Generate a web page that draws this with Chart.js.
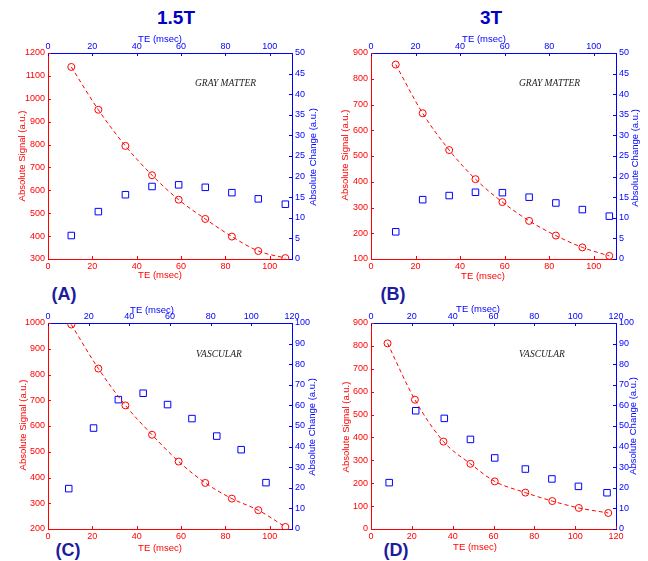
<!DOCTYPE html>
<html>
<head>
<meta charset="utf-8">
<script src="https://cdn.jsdelivr.net/npm/chart.js@4.4.1/dist/chart.umd.min.js"></script>
<style>
  html, body { margin: 0; padding: 0; background: #fff; }
  #page { position: relative; width: 648px; height: 561px; overflow: hidden; font-family: "Liberation Sans", Arial, sans-serif; }
  #page canvas { position: absolute; left: 0; top: 0; }
  .lbl { position: absolute; transform: translate(-50%, -50%); font-weight: bold; line-height: 1; white-space: nowrap; }
  .field { font-size: 19px; color: #0000c8; }
  .tag { font-size: 18px; color: #1c1c9c; }
</style>
</head>
<body>
<div id="page">
  <div class="lbl field" style="left:176px;top:17px">1.5T</div>
  <div class="lbl field" style="left:491px;top:17px">3T</div>
  <div class="lbl tag" style="left:64px;top:294px">(A)</div>
  <div class="lbl tag" style="left:393px;top:294px">(B)</div>
  <div class="lbl tag" style="left:68px;top:550px">(C)</div>
  <div class="lbl tag" style="left:396px;top:550px">(D)</div>
  <canvas id="cA" width="648" height="561"></canvas>
  <canvas id="cB" width="648" height="561"></canvas>
  <canvas id="cC" width="648" height="561"></canvas>
  <canvas id="cD" width="648" height="561"></canvas>
</div>
<script>
// ── Values ─────────────────────────────────────────────
// (A) 1.5T gray matter
const TE_A       = [10.5, 22.7, 34.9, 46.9, 58.9, 70.9, 82.9, 94.8, 107];
const SIGNAL_A   = [1139, 952, 794, 666, 559, 475, 398, 335, 304];
const CHANGE_A   = [5.7, 11.5, 15.6, 17.6, 18.0, 17.4, 16.1, 14.6, 13.3];
// (B) 3T gray matter
const TE_B       = [11.1, 23.2, 35.1, 46.9, 59.0, 71.0, 83.0, 94.9, 107];
const SIGNAL_B   = [855, 666, 523, 410, 321, 248, 191, 145, 112];
const CHANGE_B   = [6.6, 14.4, 15.4, 16.2, 16.1, 15.0, 13.6, 12.0, 10.4];
// (C) 1.5T vascular
const TE_C       = [10.5, 22.7, 34.9, 46.9, 58.9, 70.9, 82.9, 94.8, 107];
const SIGNAL_C   = [994, 823, 680, 566, 462, 379, 318, 273, 208];
const TE_C_TOP   = [10.2, 22.4, 34.6, 46.8, 58.8, 70.8, 83.0, 95.0, 107.2];
const CHANGE_C   = [19.6, 49.0, 62.8, 65.9, 60.4, 53.6, 45.1, 38.5, 22.5];
// (D) 3T vascular
const TE_D       = [8.1, 21.5, 35.5, 48.7, 60.6, 75.6, 88.8, 101.8, 116.2];
const SIGNAL_D   = [811, 565, 382, 285, 208, 159, 122, 92, 70];
const TE_D_TOP   = [8.9, 21.9, 35.9, 48.7, 60.6, 75.6, 88.6, 101.6, 115.6];
const CHANGE_D   = [22.5, 57.4, 53.7, 43.5, 34.5, 29.1, 24.3, 20.7, 17.6];

// axis limits: [min, max, step]
const TE_AXIS_110    = [0, 110, 20];
const TE_AXIS_120    = [0, 120, 20];
const SIGNAL_AXIS_A  = [300, 1200, 100];
const SIGNAL_AXIS_B  = [100, 900, 100];
const SIGNAL_AXIS_C  = [200, 1000, 100];
const SIGNAL_AXIS_D  = [0, 900, 100];
const CHANGE_AXIS_50  = [0, 50, 5];
const CHANGE_AXIS_100 = [0, 100, 10];

const RED  = '#ff0000';
const BLUE = '#0000ff';
const FONT = '"Liberation Sans", Arial, sans-serif';
const TICK = 3;

// ── MATLAB-ish look: inward ticks, axis titles, panel note ──
const matlabAxes = {
  id: 'matlabAxes',
  afterDraw(chart, args, o) {
    const ctx = chart.ctx;
    const ca = chart.chartArea;
    ctx.save();
    ctx.lineWidth = 1;
    Object.values(chart.scales).forEach(s => {
      ctx.strokeStyle = s.options.border.color;
      ctx.beginPath();
      s.ticks.forEach(t => {
        const p = Math.round(s.getPixelForValue(t.value)) + 0.5;
        if (s.position === 'left')   { ctx.moveTo(ca.left, p);  ctx.lineTo(ca.left + TICK, p); }
        if (s.position === 'right')  { ctx.moveTo(ca.right, p); ctx.lineTo(ca.right - TICK, p); }
        if (s.position === 'bottom') { ctx.moveTo(p, ca.bottom); ctx.lineTo(p, ca.bottom - TICK); }
        if (s.position === 'top')    { ctx.moveTo(p, ca.top);    ctx.lineTo(p, ca.top + TICK); }
      });
      ctx.stroke();
    });

    ctx.font = '9.5px ' + FONT;
    ctx.textAlign = 'center';
    ctx.textBaseline = 'middle';
    const t = o.titles;
    ctx.fillStyle = RED;
    ctx.fillText('TE (msec)', t.bottom[0], t.bottom[1]);
    ctx.fillStyle = BLUE;
    ctx.fillText('TE (msec)', t.top[0], t.top[1]);
    [['left', RED, 'Absolute Signal (a.u.)'], ['right', BLUE, 'Absolute Change (a.u.)']].forEach(([k, c, txt]) => {
      ctx.save();
      ctx.translate(t[k][0], t[k][1]);
      ctx.rotate(-Math.PI / 2);
      ctx.fillStyle = c;
      ctx.fillText(txt, 0, 0);
      ctx.restore();
    });

    ctx.font = 'italic 9.5px "Liberation Serif", "Times New Roman", serif';
    ctx.fillStyle = '#222';
    ctx.textAlign = 'left';
    ctx.fillText(o.note[0], o.note[1], o.note[2]);
    ctx.restore();
  }
};

function axis(position, range, color, pad) {
  const [min, max, step] = range;
  const size = { left: 48, right: 34, top: 25, bottom: 26 }[position];
  return {
    type: 'linear', position, min, max,
    grid: { display: false, drawTicks: false },
    border: { display: true, color, width: 1 },
    ticks: {
      stepSize: step, color, padding: pad, autoSkip: false, maxRotation: 0,
      includeBounds: false,
      font: { family: FONT, size: 9 },
      callback: v => String(v),
    },
    afterBuildTicks: s => {
      s.ticks = s.ticks.filter(t => {
        const k = (t.value - min) / step;
        return Math.abs(k - Math.round(k)) < 1e-6;
      });
    },
    afterFit: s => {
      if (position === 'left' || position === 'right') s.width = size;
      else s.height = size;
    },
  };
}

const pts = (xs, ys) => xs.map((x, i) => ({ x, y: ys[i] }));

function panel(id, area, xr, x2r, yr, y2r, red, blue, titles, note) {
  const [l, t, r, b] = area;
  return new Chart(document.getElementById(id), {
    type: 'scatter',
    data: {
      datasets: [
        {
          data: red, xAxisID: 'x', yAxisID: 'y',
          showLine: true, borderColor: RED, borderWidth: 1, borderDash: [4, 3],
          cubicInterpolationMode: 'monotone', tension: 0.4,
          pointStyle: 'circle', pointRadius: 3.5, pointBorderWidth: 1,
          pointBorderColor: RED, pointBackgroundColor: 'rgba(0,0,0,0)',
        },
        {
          data: blue, xAxisID: 'x2', yAxisID: 'y2',
          showLine: false,
          pointStyle: 'rect', pointRadius: 4.6, pointBorderWidth: 1,
          pointBorderColor: BLUE, pointBackgroundColor: 'rgba(0,0,0,0)',
        },
      ],
    },
    options: {
      responsive: false,
      animation: false,
      devicePixelRatio: 1,
      layout: { padding: { left: l - 48, top: t - 25, right: 648 - r - 34, bottom: 561 - b - 26 } },
      plugins: { legend: { display: false }, tooltip: { enabled: false }, matlabAxes: { titles, note } },
      scales: {
        x:  axis('bottom', xr, RED, 2),
        x2: axis('top', x2r, BLUE, 1),
        y:  axis('left', yr, RED, 3),
        y2: axis('right', y2r, BLUE, 3),
      },
    },
    plugins: [matlabAxes],
  });
}

panel('cA', [48, 53, 292, 259], TE_AXIS_110, TE_AXIS_110, SIGNAL_AXIS_A, CHANGE_AXIS_50,
  pts(TE_A, SIGNAL_A), pts(TE_A, CHANGE_A),
  { bottom: [160, 275], top: [160, 39], left: [22, 156], right: [313, 157] },
  ['GRAY MATTER', 195, 83]);

panel('cB', [371, 53, 616, 259], TE_AXIS_110, TE_AXIS_110, SIGNAL_AXIS_B, CHANGE_AXIS_50,
  pts(TE_B, SIGNAL_B), pts(TE_B, CHANGE_B),
  { bottom: [483, 276], top: [484, 39], left: [345, 155], right: [635, 158] },
  ['GRAY MATTER', 519, 83]);

panel('cC', [48, 323, 292, 529], TE_AXIS_110, TE_AXIS_120, SIGNAL_AXIS_C, CHANGE_AXIS_100,
  pts(TE_C, SIGNAL_C), pts(TE_C_TOP, CHANGE_C),
  { bottom: [160, 548], top: [152, 310], left: [23, 425], right: [312, 427] },
  ['VASCULAR', 196, 354]);

panel('cD', [371, 323, 616, 529], TE_AXIS_120, TE_AXIS_120, SIGNAL_AXIS_D, CHANGE_AXIS_100,
  pts(TE_D, SIGNAL_D), pts(TE_D_TOP, CHANGE_D),
  { bottom: [475, 547], top: [478, 309], left: [346, 427], right: [633, 426] },
  ['VASCULAR', 519, 354]);
</script>
</body>
</html>
